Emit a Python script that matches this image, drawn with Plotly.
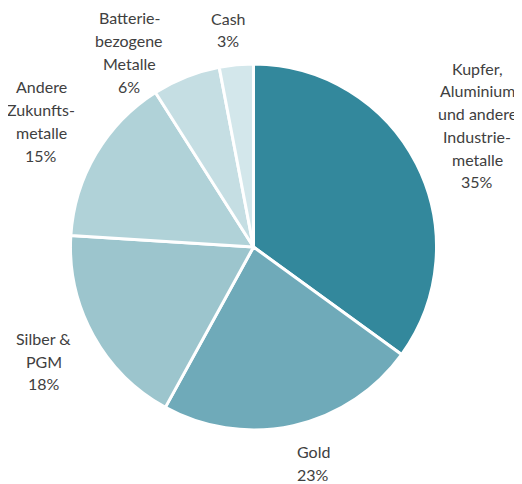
import plotly.graph_objects as go

categories = ["Kupfer,<br>Aluminium<br>und andere<br>Industrie-<br>metalle",
              "Gold",
              "Silber &<br>PGM",
              "Andere<br>Zukunfts-<br>metalle",
              "Batterie-<br>bezogene<br>Metalle",
              "Cash"]
values = [35, 23, 18, 15, 6, 3]
colors = ["#33889c", "#6faab9", "#9cc5cd", "#b0d2d8", "#c5dee3", "#d3e7eb"]
# label block centre positions (pixels in the 522x484 window)
label_px = [(477, 125), (313, 463), (43.5, 361), (41, 121), (129, 52), (228, 29.5)]

OFF = 8  # default page body margin
W, H = 522 - OFF, 484 - OFF
cx, cy, r = 253.5 - OFF, 247 - OFF, 183
PITCH = 22.7
FONT = dict(family="Lato", size=16, color="#404040")

fig = go.Figure(go.Pie(
    labels=categories, values=values, sort=False, direction="clockwise",
    rotation=0, marker=dict(colors=colors, line=dict(color="white", width=3)),
    textinfo="none", hoverinfo="label+percent", showlegend=False,
    domain=dict(x=[(cx - r) / W, (cx + r) / W], y=[(H - cy - r) / H, (H - cy + r) / H]),
))

annotations = []
for lab, v, (px, py) in zip(categories, values, label_px):
    lines = lab.split("<br>") + [f"{v}%"]
    n = len(lines)
    for i, line in enumerate(lines):
        ly = py + (i - (n - 1) / 2) * PITCH
        annotations.append(dict(
            x=(px - OFF) / W, y=1 - (ly - OFF) / H, xref="paper", yref="paper",
            text=line, showarrow=False, xanchor="center", yanchor="middle",
            align="center", font=FONT,
        ))

fig.update_layout(
    width=W, height=H, margin=dict(l=0, r=0, t=0, b=0),
    paper_bgcolor="white", plot_bgcolor="white", annotations=annotations,
)
fig.write_html("out.html")
